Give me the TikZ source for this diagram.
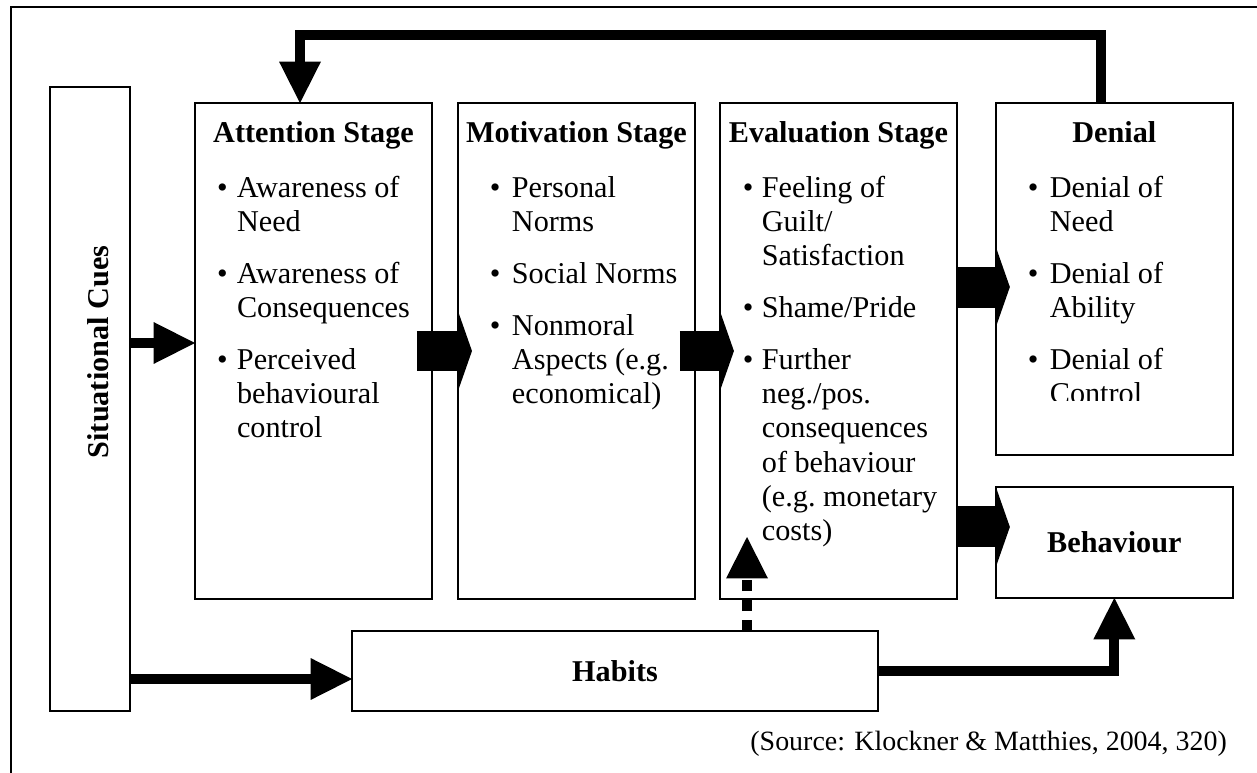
\documentclass[tikz,border=0pt]{standalone}
\usepackage{fontspec}
\setmainfont{Liberation Serif}
\usetikzlibrary{arrows.meta,positioning}

\newlength\bulx
\newlength\txtx
\newcommand{\titl}[1]{{\centering\rule{0pt}{0.78cm}\textbf{#1}\par}\vspace{0.06cm}}
\newcommand{\itm}[1]{\par\hangindent=\txtx\hangafter=1\noindent\hspace*{\bulx}\makebox[\dimexpr\txtx-\bulx\relax][l]{\textbullet}{\let\\\newline#1}}
\newcommand{\boxtext}[3]{\begin{minipage}[t]{4.74cm}\raggedright\frenchspacing
    \setlength\bulx{#1}\setlength\txtx{#2}\setlength\parskip{0.35cm}#3\end{minipage}}

\begin{document}
\begin{tikzpicture}[x=0.02cm,y=-0.02cm,
    box/.style={draw,line width=1pt,inner sep=0pt,outer sep=0pt,minimum width=4.74cm},
    txt/.style={anchor=north,inner sep=0pt,font=\fontsize{17.2}{19.52}\selectfont},
    lbl/.style={font=\fontsize{17.2}{19.52}\selectfont\bfseries},
    fat/.style={line width=0.2cm,-{Triangle[length=0.83cm,width=0.84cm,line width=0pt]}},
    block/.style={line width=0.82cm,-{Triangle[length=0.28cm,width=1.6cm,line width=0pt]}}]
    \useasboundingbox (0,0) rectangle (1257,773);
    \draw[line width=1.1pt] (11,800) -- (11,7) -- (1290,7);

    \node[box,minimum width=1.6cm,minimum height=12.48cm] (sit) at (90,399) {};
    \node[box,minimum height=9.92cm] (att) at (313.5,351) {};
    \node[box,minimum height=9.92cm] (mot) [right=0.52cm of att] {};
    \node[box,minimum height=9.92cm] (eva) [right=0.5cm of mot] {};
    \node[box,minimum height=7.04cm] (den) [right=0.78cm of eva.north east,anchor=north west] {};
    \node[box,minimum height=2.22cm,lbl] (beh) [below=0.64cm of den] {Behaviour};
    \node[box,minimum width=10.52cm,minimum height=1.6cm,lbl] (hab) at (615,671) {Habits};

    \node[lbl,rotate=90] (sitlbl) at ([xshift=0.16cm,yshift=0.94cm]sit.center) {Situational Cues};
    \node[txt] (atttxt) at (att.north) {\boxtext{0.44cm}{0.84cm}{\titl{Attention Stage}%
        \itm{Awareness of\\Need}\itm{Awareness of\\Consequences}\itm{Perceived\\behavioural\\control}}};
    \node[txt] (mottxt) at (mot.north) {\boxtext{0.64cm}{1.08cm}{\titl{Motivation Stage}%
        \itm{Personal\\Norms}\itm{Social Norms}\itm{Nonmoral\\Aspects (e.g.\\economical)}}};
    \node[txt] (evatxt) at (eva.north) {\boxtext{0.46cm}{0.84cm}{\titl{Evaluation Stage}%
        \itm{Feeling of\\Guilt/\\Satisfaction}\itm{Shame/Pride}%
        \itm{Further\\neg./pos.\\consequences\\of behaviour\\(e.g. monetary\\costs)}}};
    \begin{scope}
        \clip (den.north west) rectangle ([yshift=1.08cm]den.south east);
        \node[txt] (dentxt) at (den.north) {\boxtext{0.64cm}{1.08cm}{\titl{Denial}%
            \itm{Denial of\\Need}\itm{Denial of\\Ability}\itm{Denial of\\Control}}};
    \end{scope}
    \node[anchor=base east,font=\fontsize{15.9}{18}\selectfont] (src) at (1233,750)
        {(Source: Klockner \& Matthies, 2004, 320)};

    \path ([yshift=0.16cm]att.west) coordinate (aw)
          ([yshift=-0.16cm]hab.west) coordinate (hw)
          ([yshift=-0.16cm]den.west) coordinate (dw)
          ([yshift=0.31cm]beh.west) coordinate (bw);
    \coordinate (dsh) at (747,537);

    \draw[fat] ([xshift=-0.27cm]den.north) -- ++(0,-68) -| ([xshift=-0.27cm]att.north);
    \draw[fat] (aw -| sit.east) -- (aw);
    \draw[fat] (hw -| sit.east) -- (hw);
    \draw[fat] (hab.east) -| (beh.south);
    \draw[fat,dash pattern=on 0.22cm off 0.18cm] (dsh |- hab.north) -- (dsh);
    \draw[block] ([xshift=-0.3cm]att.east) -- ([xshift=0.28cm]mot.west);
    \draw[block] ([xshift=-0.3cm]mot.east) -- ([xshift=0.28cm]eva.west);
    \draw[block] (dw -| eva.east) -- ([xshift=0.28cm]dw);
    \draw[block] (bw -| eva.east) -- ([xshift=0.28cm]bw);
\end{tikzpicture}
\end{document}
